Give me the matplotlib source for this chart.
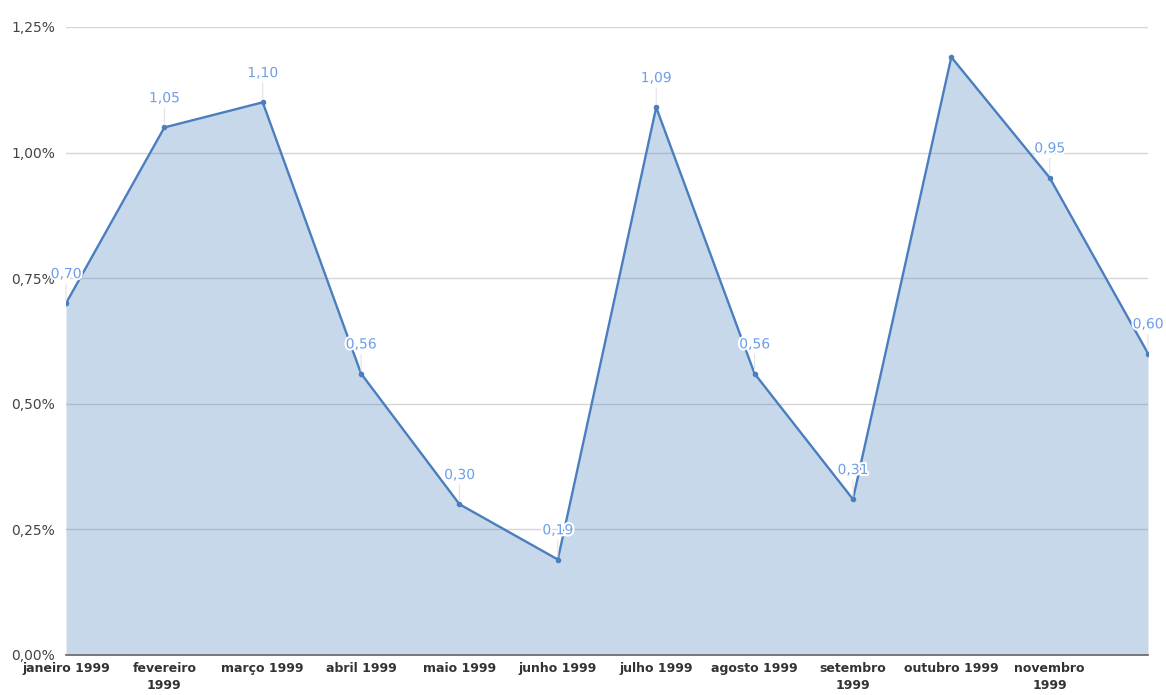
import matplotlib.pyplot as plt
import matplotlib.patheffects as pe
from matplotlib.ticker import FuncFormatter

# monthly rate, % per month
meses = ['janeiro 1999', 'fevereiro\n1999', 'março 1999', 'abril 1999', 'maio 1999',
         'junho 1999', 'julho 1999', 'agosto 1999', 'setembro\n1999', 'outubro 1999',
         'novembro\n1999', '']
taxa = [0.70, 1.05, 1.10, 0.56, 0.30, 0.19, 1.09, 0.56, 0.31, 1.19, 0.95, 0.60]
# which points get a value label
com_rotulo = [True, True, True, True, True, True, True, True, True, False, True, True]

line_color = '#4a7ebf'
label_color = '#6d9eeb'

fig = plt.figure(figsize=(11.66, 6.95), dpi=100)
ax = fig.add_axes([0.0566, 0.0576, 0.928, 0.9036])

x = list(range(len(taxa)))
# translucent fill so the gridlines show through it
ax.fill_between(x, 0, taxa, color=line_color, alpha=0.3, lw=0, zorder=2)
ax.plot(x, taxa, color=line_color, lw=1.7, marker='o', ms=3, zorder=3)

for xi, v, show in zip(x, taxa, com_rotulo):
    if not show:
        continue
    ax.annotate(f'{v:.2f}'.replace('.', ','), xy=(xi, v), xytext=(0, 16),
                textcoords='offset points', ha='center', va='bottom',
                fontsize=10, color=label_color, zorder=4,
                path_effects=[pe.withStroke(linewidth=3, foreground='white')],
                arrowprops=dict(arrowstyle='-', color='#e3e3e3', lw=0.8,
                                shrinkA=0, shrinkB=2))

ax.set_xlim(0, 11)
ax.set_ylim(0, 1.25)
ax.set_yticks([0, 0.25, 0.5, 0.75, 1.0, 1.25])
ax.yaxis.set_major_formatter(FuncFormatter(lambda v, p: f'{v:.2f}%'.replace('.', ',')))
ax.grid(axis='y', color='#d6d6d6', lw=1, zorder=1)

ax.set_xticks(x)
ax.set_xticklabels(meses, fontsize=9, fontweight='bold', color='#333333', linespacing=1.4)
ax.tick_params(axis='x', length=0, pad=5)
ax.tick_params(axis='y', length=0, pad=8, labelsize=10, labelcolor='#444444')

for s in ['top', 'right', 'left']:
    ax.spines[s].set_visible(False)
ax.spines['bottom'].set_color('#666666')
ax.spines['bottom'].set_zorder(5)
ax.spines['bottom'].set_linewidth(1.2)

fig.savefig('out.png', dpi=100)
